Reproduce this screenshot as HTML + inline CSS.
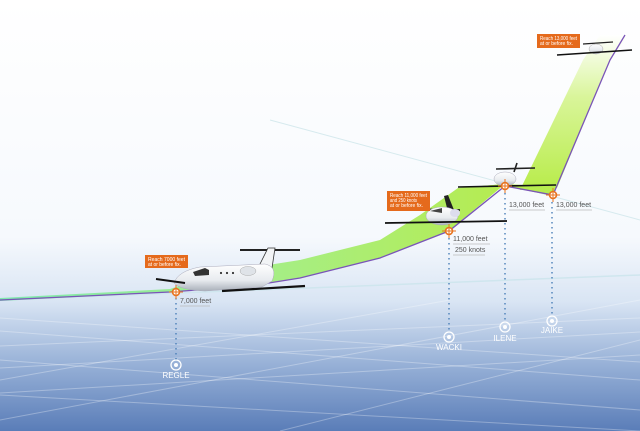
<!DOCTYPE html>
<html><head><meta charset="utf-8"><style>
html,body{margin:0;padding:0;background:#fff}
svg{display:block}
text{font-family:"Liberation Sans",sans-serif}
</style></head><body>
<svg width="640" height="431" viewBox="0 0 640 431" xmlns="http://www.w3.org/2000/svg">
<defs>
<linearGradient id="bg" x1="0" y1="0" x2="0" y2="1">
<stop offset="0" stop-color="#ffffff"/>
<stop offset="0.55" stop-color="#f6f9fd"/>
<stop offset="0.7" stop-color="#d9e5f4"/>
<stop offset="0.85" stop-color="#95afd6"/>
<stop offset="1" stop-color="#5a7db8"/>
</linearGradient>
<linearGradient id="gtop" x1="0" y1="1" x2="0" y2="0">
<stop offset="0" stop-color="#b8ec4a"/>
<stop offset="0.6" stop-color="#d9f59a"/>
<stop offset="1" stop-color="#ffffff"/>
</linearGradient>
<linearGradient id="gleft" x1="0" y1="0" x2="1" y2="0">
<stop offset="0" stop-color="#7fe8b0"/>
<stop offset="0.5" stop-color="#a4ee8a"/>
<stop offset="1" stop-color="#b6ec50"/>
</linearGradient>
<linearGradient id="fus" x1="0" y1="0" x2="0" y2="1">
<stop offset="0" stop-color="#ffffff"/><stop offset="0.6" stop-color="#e8ebef"/><stop offset="1" stop-color="#a9b0ba"/>
</linearGradient>
<g id="mk"><circle r="3.5" fill="#fff" stroke="#e8731f" stroke-width="1.6"/><path d="M0-7V7M-7 0H7" stroke="#e8731f" stroke-width="1"/></g>
<g id="wp"><circle r="5" fill="none" stroke="#fff" stroke-width="1.3"/><circle r="2" fill="#fff"/></g>
</defs>
<rect width="640" height="431" fill="url(#bg)"/>
<!-- grid -->
<g stroke="#fff" stroke-opacity="0.3" stroke-width="1" fill="none">
<path d="M0 346 L640 318"/><path d="M0 368 L640 332"/><path d="M0 393 L640 355"/>
<path d="M0 318 L640 362"/><path d="M0 331 L640 380"/><path d="M0 360 L640 410"/><path d="M0 395 L640 431"/>
<path d="M0 420 L640 300"/><path d="M280 431 L640 340"/><path d="M0 380 L450 300"/>
</g>
<!-- faint lines -->
<path d="M0 300 L640 275" stroke="#cfe6ee" stroke-width="1.5"/>
<path d="M270 120 L640 220" stroke="#d6eaee" stroke-width="1"/>
<!-- ribbons -->
<path d="M520 190 L583 60 L600 35 L628 35 L610 60 L557 188 Z" fill="url(#gtop)"/>
<path d="M458 188 L505 184 L556 187 L553 196 L505 186 Z" fill="#b6ec50"/>
<path d="M0 298 L170 289 L217 273 L300 260 L380 240 L420 215 L458 188 L505 184 L449 231 L380 258 L300 278 L250 286 L170 292 L0 301 Z" fill="url(#gleft)"/>
<path d="M0 300 L170 292 L250 286 L300 278 L380 258 L449 231 L505 186 L553 195 L610 60 L625 35" fill="none" stroke="#7a55b8" stroke-width="1.3"/>
<!-- dotted lines -->
<g stroke="#4a7fb8" stroke-width="1.4" stroke-dasharray="1.5 3.5">
<path d="M176 293V360"/><path d="M449 233V332"/><path d="M505 188V322"/><path d="M552 197V315"/>
</g>
<!-- planes -->
<g>
<path d="M240 250 L300 250" stroke="#222" stroke-width="2"/>
<path d="M258 268 L268 248 L275 248 L272 268 Z" fill="#f2f4f6" stroke="#333" stroke-width="0.8"/>
<path d="M174 283 Q178 271 200 267 L265 264 Q278 267 272 281 L262 287 L205 291 Q180 290 174 283 Z" fill="url(#fus)" stroke="#aab" stroke-width="0.5"/>
<path d="M193 272 L205 268 L209 270 L209 275 L195 276 Z" fill="#333"/>
<circle cx="221" cy="273" r="1.1" fill="#333"/><circle cx="227" cy="273" r="1.1" fill="#333"/><circle cx="233" cy="273" r="1.1" fill="#333"/>
<ellipse cx="248" cy="271" rx="8" ry="4.5" fill="#dfe3e8" stroke="#999" stroke-width="0.4"/>
<path d="M156 279 L185 283" stroke="#111" stroke-width="2"/>
<path d="M222 291 L305 286" stroke="#111" stroke-width="2.2"/>
</g>
<g>
<path d="M398 209 L460 210" stroke="#222" stroke-width="1.8"/>
<path d="M448 212 L444 196 L448 195 L454 210 Z" fill="#222"/>
<ellipse cx="442" cy="216" rx="16" ry="9" fill="url(#fus)" stroke="#aab" stroke-width="0.5"/>
<path d="M430 211 L442 208 L442 213 Z" fill="#444"/>
<ellipse cx="455" cy="213" rx="5" ry="4" fill="#dde"/>
<path d="M385 223 L507 221" stroke="#111" stroke-width="1.8"/>
</g>
<g>
<path d="M496 169 L535 168" stroke="#222" stroke-width="1.6"/>
<path d="M514 172 L517 163" stroke="#222" stroke-width="1.6"/>
<ellipse cx="505" cy="179" rx="11" ry="7" fill="url(#fus)" stroke="#aab" stroke-width="0.5"/>
<path d="M458 187 L556 185" stroke="#111" stroke-width="1.6"/>
</g>
<g>
<path d="M583 44 L613 42" stroke="#222" stroke-width="1.3"/>
<ellipse cx="596" cy="49" rx="7" ry="5" fill="url(#fus)" stroke="#aaa" stroke-width="0.5"/>
<path d="M557 55 L632 50" stroke="#111" stroke-width="1.4"/>
</g>
<use href="#mk" x="176" y="292"/><use href="#mk" x="449" y="231"/><use href="#mk" x="505" y="186"/><use href="#mk" x="553" y="195"/>
<use href="#wp" x="176" y="365"/><use href="#wp" x="449" y="337"/><use href="#wp" x="505" y="327"/><use href="#wp" x="552" y="321"/>
<g fill="#fff" font-size="8" text-anchor="middle">
<text x="176" y="378">REGLE</text><text x="449" y="350">WACKI</text><text x="505" y="341">ILENE</text><text x="552" y="333">JAIKE</text>
</g>
<!-- altitude labels -->
<g font-size="7" fill="#555">
<text x="180" y="303">7,000 feet</text><text x="453" y="241">11,000 feet</text><text x="455" y="252">250 knots</text>
<text x="509" y="207">13,000 feet</text><text x="556" y="207">13,000 feet</text>
</g>
<g stroke="#bbb" stroke-width="0.7"><path d="M180 306H210M453 244H490M453 255H485M509 210H545M556 210H592"/></g>
<!-- callouts -->
<g font-size="5" fill="#fff">
<rect x="145" y="255" width="43" height="13" fill="#e56a1c"/><text x="148" y="261" textLength="37" lengthAdjust="spacingAndGlyphs">Reach 7000 feet</text><text x="148" y="266" textLength="33" lengthAdjust="spacingAndGlyphs">at or before fix.</text>
<rect x="387" y="191" width="43" height="20" fill="#e56a1c"/><text x="390" y="197" textLength="37" lengthAdjust="spacingAndGlyphs">Reach 11,000 feet</text><text x="390" y="202" textLength="27" lengthAdjust="spacingAndGlyphs">and 250 knots</text><text x="390" y="207" textLength="33" lengthAdjust="spacingAndGlyphs">at or before fix.</text>
<rect x="537" y="34" width="43" height="14" fill="#e56a1c"/><text x="540" y="40" textLength="37" lengthAdjust="spacingAndGlyphs">Reach 13,000 feet</text><text x="540" y="45" textLength="33" lengthAdjust="spacingAndGlyphs">at or before fix.</text>
</g>
</svg>
</body></html>
